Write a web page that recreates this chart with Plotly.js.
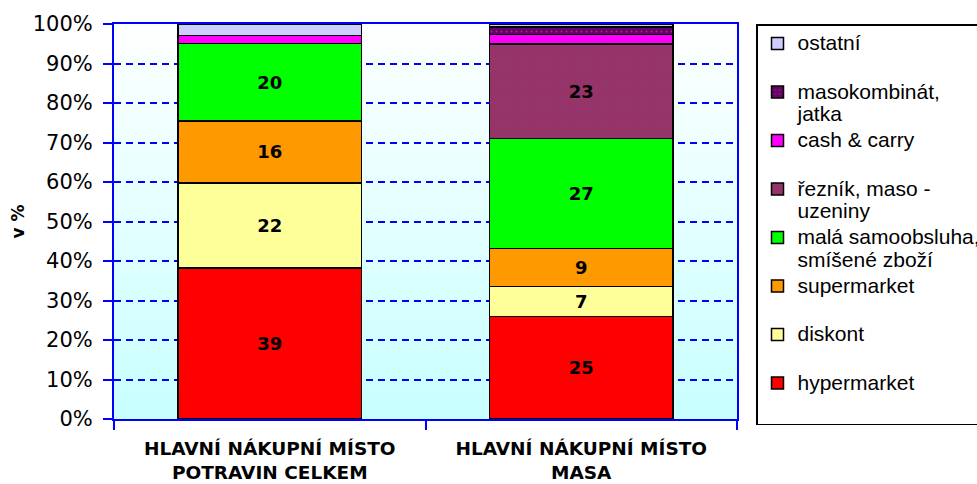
<!DOCTYPE html>
<html><head><meta charset="utf-8">
<script src="https://cdn.plot.ly/plotly-3.0.1.min.js"></script>
<style>html,body{margin:0;padding:0;background:#fff}</style>
</head><body><div id="chart" style="width:977px;height:484px"></div>
<script>
// ---- data ----
const categories = ["HLAVNÍ NÁKUPNÍ MÍSTO<br>POTRAVIN CELKEM", "HLAVNÍ NÁKUPNÍ MÍSTO<br>MASA"];
const seriesNames = ["hypermarket", "diskont", "supermarket", "malá samoobsluha,|smíšené zboží",
                     "řezník, maso -|uzeniny", "cash & carry", "masokombinát,|jatka", "ostatní"];
const hypermarket     = [39, 25.4];
const diskont         = [22, 7.4];
const supermarket     = [16, 9.4];
const malaSamoobsluha = [20, 27.2];
const reznik          = [null, 23.4];
const cashCarry       = [2, 2.4];
const masokombinat    = [null, 1.8];
const ostatni         = [3, 0.8];
const yTickVals = [0, 10, 20, 30, 40, 50, 60, 70, 80, 90, 100];
const yTickText = ["0%", "10%", "20%", "30%", "40%", "50%", "60%", "70%", "80%", "90%", "100%"];

// ---- styles ----
const seriesValues = [hypermarket, diskont, supermarket, malaSamoobsluha, reznik, cashCarry, masokombinat, ostatni];
const seriesColors = ["#ff0000", "#ffff99", "#ff9900", "#00ff00", "#993366", "#ff00ff", "#660066", "#ccccff"];
const seriesDots = [null, null, null, null, "#7a3f86", null, "#8a3f8a", null];

function legendLabel(name) {
  const lines = name.split("|");
  if (lines.length === 1) lines.push("");
  return lines.map(l => l ? '<span style="font-size:21px">' + l + '</span>' : '').join("<br>");
}

const traces = seriesValues.map((vals, i) => {
  const marker = {color: seriesColors[i], line: {color: "#000000", width: 1.5}};
  if (seriesDots[i]) marker.pattern = {shape: ".", fgcolor: seriesDots[i], bgcolor: seriesColors[i],
                                       size: 5, solidity: 0.1, fillmode: "replace"};
  return {
    type: "bar",
    name: legendLabel(seriesNames[i]),
    x: categories,
    y: vals,
    width: 0.59,
    marker: marker,
    text: vals.map(v => (v !== null && v >= 5) ? String(Math.round(v)) : ""),
    texttemplate: "%{text}",
    textposition: "inside",
    insidetextanchor: "middle",
    textangle: 0,
    constraintext: "none",
    textfont: {family: "DejaVu Sans", size: 18, color: "#000000", weight: "bold"},
    hoverinfo: "skip"
  };
});

// background gradient image for plot area
const cv = document.createElement("canvas");
cv.width = 2; cv.height = 256;
const ctx = cv.getContext("2d");
const grad = ctx.createLinearGradient(0, 0, 0, 256);
grad.addColorStop(0, "#ffffff");
grad.addColorStop(1, "#c8ffff");
ctx.fillStyle = grad;
ctx.fillRect(0, 0, 2, 256);

const layout = {
  width: 977, height: 484,
  margin: {l: 114, r: 240, t: 24, b: 65, autoexpand: false},
  paper_bgcolor: "#ffffff",
  plot_bgcolor: "rgba(0,0,0,0)",
  barmode: "stack",
  barnorm: "percent",
  showlegend: true,
  images: [{source: cv.toDataURL(), xref: "paper", yref: "paper", x: 0, y: 1,
            sizex: 1, sizey: 1, sizing: "stretch", layer: "below", xanchor: "left", yanchor: "top"}],
  xaxis: {
    type: "category",
    showline: true, linecolor: "#0000ff", linewidth: 2, mirror: true,
    ticks: "outside", tickson: "boundaries", ticklen: 9, tickwidth: 2, tickcolor: "#0000ff",
    showgrid: false, zeroline: false,
    tickfont: {family: "DejaVu Sans", size: 18.5, color: "#000000", weight: "bold"},
    ticklabelstandoff: 12
  },
  yaxis: {
    range: [0, 100],
    tickvals: yTickVals, ticktext: yTickText,
    showline: true, linecolor: "#0000ff", linewidth: 2, mirror: true,
    ticks: "outside", ticklen: 9, tickwidth: 2, tickcolor: "#0000ff",
    showgrid: true, gridcolor: "#0000ff", gridwidth: 2, griddash: "7px,5px",
    zeroline: false,
    tickfont: {family: "DejaVu Sans", size: 21, color: "#000000"},
    ticklabelstandoff: 6,
    title: {text: "v %", font: {family: "DejaVu Sans", size: 17, color: "#000000", weight: "bold"}, standoff: 4}
  },
  yaxis2: {
    overlaying: "y", side: "left", range: [0, 100],
    tickvals: yTickVals, showticklabels: false,
    ticks: "inside", ticklen: 6, tickwidth: 2, tickcolor: "#0000ff",
    showgrid: false, zeroline: false, showline: false
  },
  legend: {
    xref: "paper", yref: "paper", x: 1.0305, y: 1, xanchor: "left", yanchor: "top",
    maxheight: 440,
    bgcolor: "#ffffff", bordercolor: "#000000", borderwidth: 1.5,
    font: {family: "Liberation Sans", size: 17.5, color: "#000000"},
    valign: "top", traceorder: "reversed"
  }
};

Plotly.newPlot("chart", traces, layout, {displayModeBar: false, staticPlot: true});
</script>
</body></html>
